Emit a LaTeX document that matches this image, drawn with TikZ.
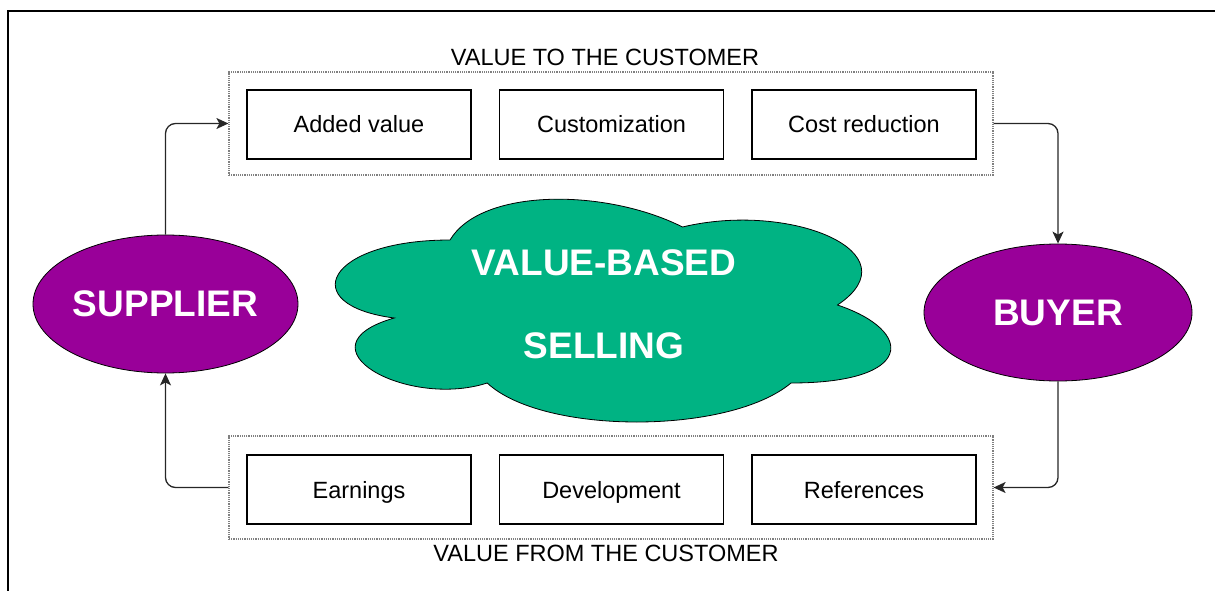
\documentclass[tikz,border=0pt]{standalone}
\usepackage{fontspec}
\setmainfont{Liberation Sans}
\usepackage{xcolor}
\usetikzlibrary{shapes.geometric,arrows.meta}

\definecolor{vbpurple}{RGB}{153,0,153}
\definecolor{vbgreen}{RGB}{0,179,131}

\begin{document}
\begin{tikzpicture}[x=1pt, y=-1pt,
		item/.style={draw, line width=1.4pt, minimum width=224pt, minimum height=69pt, text height=17pt, text depth=0pt, font=\fontsize{23.5}{28}\selectfont},
		group/.style={draw=gray, densely dotted, line width=1.2pt, minimum width=764pt, minimum height=103pt},
		party/.style={ellipse, draw, line width=0.8pt, fill=vbpurple, text=white, inner sep=0pt, font=\bfseries\fontsize{37}{44}\selectfont},
		caption/.style={font=\fontsize{23.5}{28}\selectfont},
		flow/.style={-{Stealth[length=12pt,width=11pt,inset=3pt]}, line width=1.3pt, draw=black!85, rounded corners=10pt}]
	\useasboundingbox (0, 0) rectangle (1215, 591);
	% frame
	\draw[line width=2pt] (8, 600) -- (8, 11) -- (1225, 11);

	% cloud in the middle
	\draw[fill=vbgreen, line width=0.8pt] (450, 240)
		.. controls (326, 240) and (295, 305) .. (394.2, 318)
		.. controls (295, 346.6) and (406.6, 409) .. (487.2, 383)
		.. controls (543, 435) and (729, 435) .. (791, 383)
		.. controls (915, 383) and (915, 331) .. (837.5, 305)
		.. controls (915, 253) and (791, 201) .. (682.5, 227)
		.. controls (605, 188) and (481, 188) .. cycle;
	\node[text=white, align=center, font=\bfseries\fontsize{37}{44}\selectfont] (vbs) at (604, 304) {VALUE-BASED\\[39pt]SELLING};

	% the two parties
	\node[party, minimum width=265pt, minimum height=138pt] (sup) at (165.5, 304) {SUPPLIER};
	\node[party, minimum width=268pt, minimum height=137pt] (buy) at (1058, 312.5) {BUYER};

	% value to the customer
	\node[group] (top) at (611, 123.5) {};
	\node[caption] (toplbl) at (605, 57) {VALUE TO THE CUSTOMER};
	\node[item] (added) at (359, 124.5) {Added value};
	\node[item] (custom) at (611.5, 124.5) {Customization};
	\node[item] (cost) at (864, 124.5) {Cost reduction};

	% value from the customer
	\node[group] (bot) at (611, 487.5) {};
	\node[caption] (botlbl) at (606, 553) {VALUE FROM THE CUSTOMER};
	\node[item] (earn) at (359, 489.5) {Earnings};
	\node[item] (devel) at (611.5, 489.5) {Development};
	\node[item] (refs) at (864, 489.5) {References};

	% the loop
	\draw[flow] (sup.north) |- (top.west);
	\draw[flow] (top.east) -| (buy.north);
	\draw[flow] (buy.south) |- (bot.east);
	\draw[flow] (bot.west) -| (sup.south);
\end{tikzpicture}
\end{document}
